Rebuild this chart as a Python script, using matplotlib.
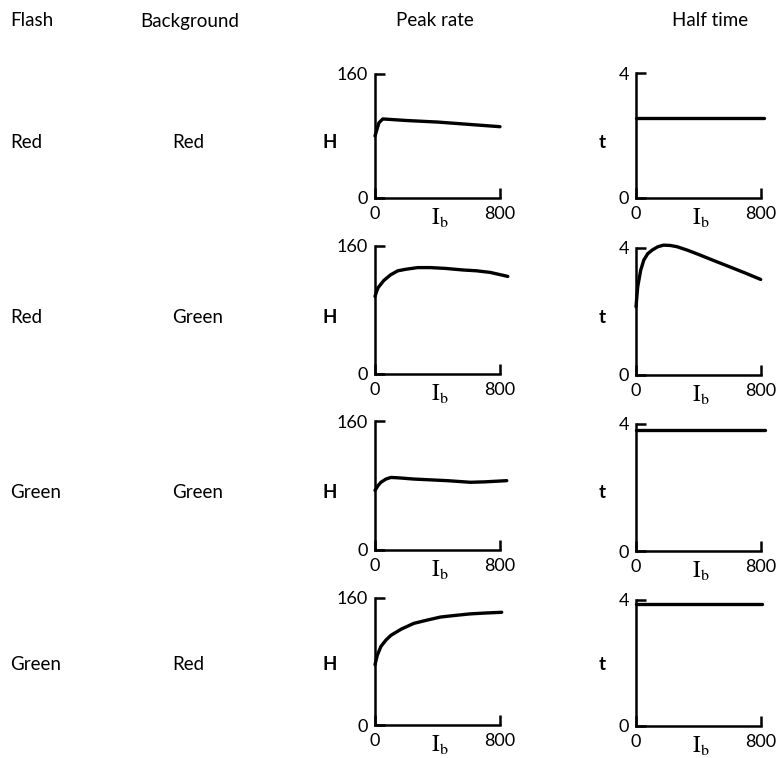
import matplotlib
matplotlib.use("Agg")
import matplotlib.pyplot as plt

plt.rcParams['font.family'] = ['Lato', 'DejaVu Sans']
plt.rcParams['mathtext.fontset'] = 'stix'

# ---- data ----
col_headers = ["Flash", "Background", "Peak rate", "Half time"]
flash = ["Red", "Red", "Green", "Green"]
background = ["Red", "Green", "Green", "Red"]

peak_ib_1 = [0, 25, 50, 200, 400, 600, 800]
peak_h_1 = [80, 97, 102, 100, 98, 95, 92]
peak_ib_2 = [0, 10, 20, 57, 100, 146, 200, 273, 355, 450, 565, 650, 737, 850]
peak_h_2 = [97, 103, 108, 117, 124, 129, 131, 133, 133, 132, 130, 129, 127, 122]
peak_ib_3 = [0, 20, 38, 70, 102, 150, 248, 462, 610, 700, 843]
peak_h_3 = [74, 80, 84, 88, 90, 89.5, 88, 86, 84, 84.5, 86]
peak_ib_4 = [0, 15, 38, 70, 102, 170, 248, 330, 419, 510, 610, 700, 811]
peak_h_4 = [76, 88, 99, 107, 113, 121, 128, 132, 136, 138, 140, 141, 142]

half_ib_1 = [0, 820]
half_t_1 = [2.55, 2.55]
half_ib_2 = [0, 11, 30, 50, 75, 105, 140, 176, 220, 263, 330, 409, 500, 598, 700, 798]
half_t_2 = [2.15, 2.78, 3.30, 3.62, 3.82, 3.94, 4.04, 4.09, 4.08, 4.04, 3.93, 3.78, 3.60, 3.41, 3.21, 3.01]
half_ib_3 = [0, 825]
half_t_3 = [3.82, 3.82]
half_ib_4 = [0, 806]
half_t_4 = [3.87, 3.87]

peak_series = [(peak_ib_1, peak_h_1), (peak_ib_2, peak_h_2),
               (peak_ib_3, peak_h_3), (peak_ib_4, peak_h_4)]
half_series = [(half_ib_1, half_t_1), (half_ib_2, half_t_2),
               (half_ib_3, half_t_3), (half_ib_4, half_t_4)]

x_ticks = [0, 800]
x_ticklabels = ["0", "800"]
peak_yticks = [0, 160]
peak_yticklabels = ["0", "160"]
half_yticks = [0, 4]
half_yticklabels = ["0", "4"]

W, H = 777, 758
fig = plt.figure(figsize=(W / 100, H / 100), dpi=100)

def px_axes(left, right, top, bottom):
    return fig.add_axes([left / W, 1 - bottom / H, (right - left) / W, (bottom - top) / H])

peak_rows = [(74, 198), (246, 374), (421, 550), (598, 725)]
half_rows = [(73, 198), (248, 375), (424, 551), (600, 726)]
row_label_y = [143, 317, 493, 665]

FS = 13.5
TFS = 13

def style(ax, ymax, yticks, yticklabels):
    ax.set_xlim(0, 800)
    ax.set_ylim(0, ymax)
    for s in ["top", "right"]:
        ax.spines[s].set_visible(False)
    for s in ["left", "bottom"]:
        ax.spines[s].set_linewidth(1.8)
    ax.set_xticks(x_ticks)
    ax.set_xticklabels(x_ticklabels, fontsize=TFS)
    ax.set_yticks(yticks)
    ax.set_yticklabels(yticklabels, fontsize=TFS)
    ax.tick_params(axis='both', direction='in', length=7, width=1.8)
    ax.tick_params(axis='x', pad=6)
    ax.tick_params(axis='y', pad=5)
    ax.annotate(r'$\mathrm{I_b}$', xy=(415, 0), xycoords='data',
                xytext=(0, -6), textcoords='offset points',
                ha='center', va='top', fontsize=FS + 3)
    ax.patch.set_alpha(0)

for i in range(4):
    top, bot = peak_rows[i]
    ax = px_axes(375, 500, top, bot)
    ib, h = peak_series[i]
    ax.plot(ib, h, color='black', lw=2.4, clip_on=False,
            solid_capstyle='round', solid_joinstyle='round')
    style(ax, 160, peak_yticks, peak_yticklabels)
    fig.text(330 / W, 1 - row_label_y[i] / H, "H", fontsize=FS,
             fontweight='bold', ha='center', va='center')

    top, bot = half_rows[i]
    ax2 = px_axes(636, 761, top, bot)
    ib, t = half_series[i]
    ax2.plot(ib, t, color='black', lw=2.4, clip_on=False,
             solid_capstyle='round', solid_joinstyle='round')
    style(ax2, 4, half_yticks, half_yticklabels)
    fig.text(602 / W, 1 - row_label_y[i] / H, "t", fontsize=FS,
             fontweight='bold', ha='center', va='center')

    fig.text(10 / W, 1 - row_label_y[i] / H, flash[i], fontsize=FS,
             ha='left', va='center')
    fig.text(172 / W, 1 - row_label_y[i] / H, background[i], fontsize=FS,
             ha='left', va='center')

header_x = [10, 140, 435, 710]
header_ha = ['left', 'left', 'center', 'center']
for hx, ha, txt in zip(header_x, header_ha, col_headers):
    fig.text(hx / W, 1 - 21 / H, txt, fontsize=FS, ha=ha, va='center')

fig.savefig("out.png", dpi=100)
